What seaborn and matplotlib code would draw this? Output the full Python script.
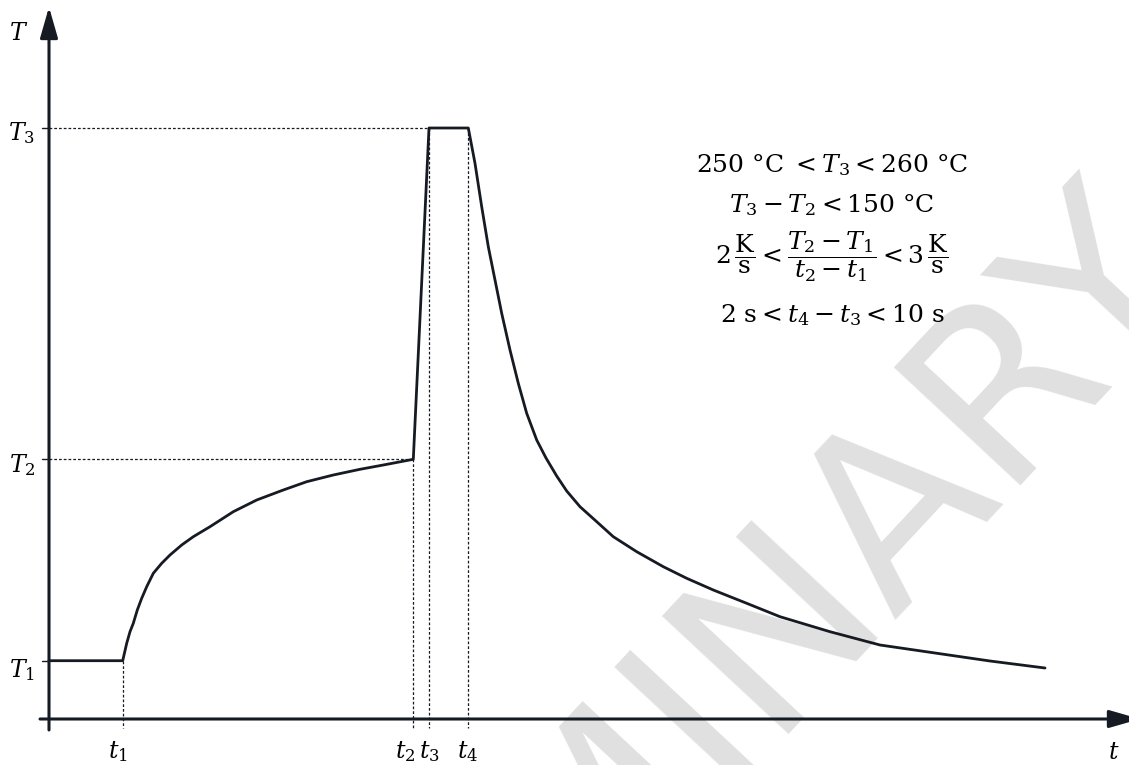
import matplotlib
matplotlib.use("Agg")
import matplotlib.pyplot as plt
import seaborn as sns
import pandas as pd

# ---------------- data (arbitrary units) ----------------
time_vals = [0, 7.37, 7.77, 8.10, 8.43, 8.83, 9.27, 9.77, 10.43, 11.27, 12.1,
             13.27, 14.43, 16.1, 18.43, 20.77, 23.43, 25.77, 28.43, 31.1, 33.43,
             36.43, 38.0, 41.93, 42.6, 43.27, 43.93, 44.6, 45.27, 46.1, 46.93,
             47.77, 48.77, 49.7, 50.77, 51.77, 53.1, 54.77, 56.43, 58.77, 61.43,
             63.77, 66.43, 69.77, 73.1, 78.1, 83.1, 88.6, 94.1, 99.6]
temp_vals = [5.83, 5.83, 7.57, 8.73, 9.57, 10.9, 12.07, 13.23, 14.57, 15.57,
             16.4, 17.4, 18.23, 19.23, 20.73, 21.9, 22.9, 23.73, 24.4, 24.97,
             25.4, 25.97, 59.1, 59.1, 55.57, 51.23, 47.23, 43.9, 40.57, 36.9,
             33.57, 30.57, 27.9, 26.1, 24.3, 22.8, 21.23, 19.73, 18.23, 16.73,
             15.23, 14.07, 12.9, 11.57, 10.23, 8.73, 7.4, 6.6, 5.8, 5.1]

t_marks = [7.37, 36.43, 38.0, 41.93]        # t1, t2, t3, t4
T_marks = [5.83, 25.97, 59.1]               # T1, T2, T3
t_labels = [r"$t_1$", r"$t_2$", r"$t_3$", r"$t_4$"]
T_labels = [r"$T_1$", r"$T_2$", r"$T_3$"]

conditions = [
    r"$250\ \mathrm{°C}\ < T_3 < 260\ \mathrm{°C}$",
    r"$T_3 - T_2 < 150\ \mathrm{°C}$",
    r"$2\,\dfrac{\mathrm{K}}{\mathrm{s}} < \dfrac{T_2 - T_1}{t_2 - t_1} < 3\,\dfrac{\mathrm{K}}{\mathrm{s}}$",
    r"$2\ \mathrm{s} < t_4 - t_3 < 10\ \mathrm{s}$",
]
watermark = "PRELIMINARY"

# ---------------- style ----------------
sns.set_theme(style="white")
plt.rcParams["font.family"] = ["DejaVu Serif"]
plt.rcParams["mathtext.fontset"] = "dejavuserif"
plt.rcParams["text.color"] = "black"

W, H = 1129, 765
fig = plt.figure(figsize=(W / 100, H / 100), dpi=100)
ax = fig.add_axes([0, 0, 1, 1])

ink = "#161a22"

def px2data_y(py):
    return (719 - py) / 10.0

# watermark
ax.text(616 / W, 1 - 798 / H, watermark, transform=fig.transFigure,
        fontsize=171, color="#e0e0e0", family="DejaVu Sans",
        rotation=47, rotation_mode="anchor", ha="center", va="center",
        zorder=0.5, clip_on=False)

# temperature curve
df = pd.DataFrame({"t": time_vals, "T": temp_vals})
sns.lineplot(data=df, x="t", y="T", sort=False, estimator=None,
             color=ink, lw=2.0, ax=ax, zorder=3)

ax.set_xlim(-4.9, 108.0)
ax.set_ylim(-4.6, 71.9)
ax.axis("off")

# axes arrows
arrow_kw = dict(arrowstyle="-|>,head_length=0.94,head_width=0.27",
                lw=2.2, color=ink, mutation_scale=20, shrinkA=0, shrinkB=0)
ax.annotate("", xy=(0, 71.2), xytext=(0, -1.1), arrowprops=arrow_kw,
            annotation_clip=False, zorder=4)
ax.annotate("", xy=(109.1, 0), xytext=(-0.9, 0), arrowprops=arrow_kw,
            annotation_clip=False, zorder=4)

# dotted guide lines
dot = dict(color=ink, lw=0.9, ls=(0, (2.2, 1.6)), zorder=1.5)
ax.plot([0, t_marks[1]], [T_marks[1], T_marks[1]], **dot)
ax.plot([0, t_marks[2]], [T_marks[2], T_marks[2]], **dot)
ax.plot([t_marks[0], t_marks[0]], [T_marks[0], -0.9], **dot)
ax.plot([t_marks[1], t_marks[1]], [T_marks[1], -0.9], **dot)
ax.plot([t_marks[2], t_marks[2]], [T_marks[2], -0.9], **dot)
ax.plot([t_marks[3], t_marks[3]], [T_marks[2], -0.9], **dot)

# small ticks on T axis
for Tv in T_marks:
    ax.plot([-0.7, 0], [Tv, Tv], color=ink, lw=1.0, zorder=3)

# labels
lab_fs = 17
ax.text(-3.0, px2data_y(40), r"$T$", fontsize=lab_fs, ha="center", va="baseline")
T_base = [677, 472, 140]
for lab, pb in zip(T_labels, T_base):
    ax.text(-2.7, px2data_y(pb), lab, fontsize=lab_fs, ha="center", va="baseline")
t_lab_x = [118, 405, 429, 468]
for lab, px in zip(t_labels, t_lab_x):
    ax.text((px - 49) / 10.0, px2data_y(758), lab, fontsize=lab_fs,
            ha="center", va="baseline")
ax.text((1114 - 49) / 10.0, px2data_y(759), r"$t$", fontsize=lab_fs,
        ha="center", va="baseline")

# condition block
cx = 832 / W
fs = 18
fig.text(cx, 1 - 172 / H, conditions[0], fontsize=fs, ha="center", va="baseline")
fig.text(cx, 1 - 212 / H, conditions[1], fontsize=fs, ha="center", va="baseline")
fig.text(cx, 1 - 257 / H, conditions[2], fontsize=fs, ha="center", va="center")
fig.text(cx, 1 - 322 / H, conditions[3], fontsize=fs, ha="center", va="baseline")

fig.savefig("out.png", dpi=100, facecolor="white")
